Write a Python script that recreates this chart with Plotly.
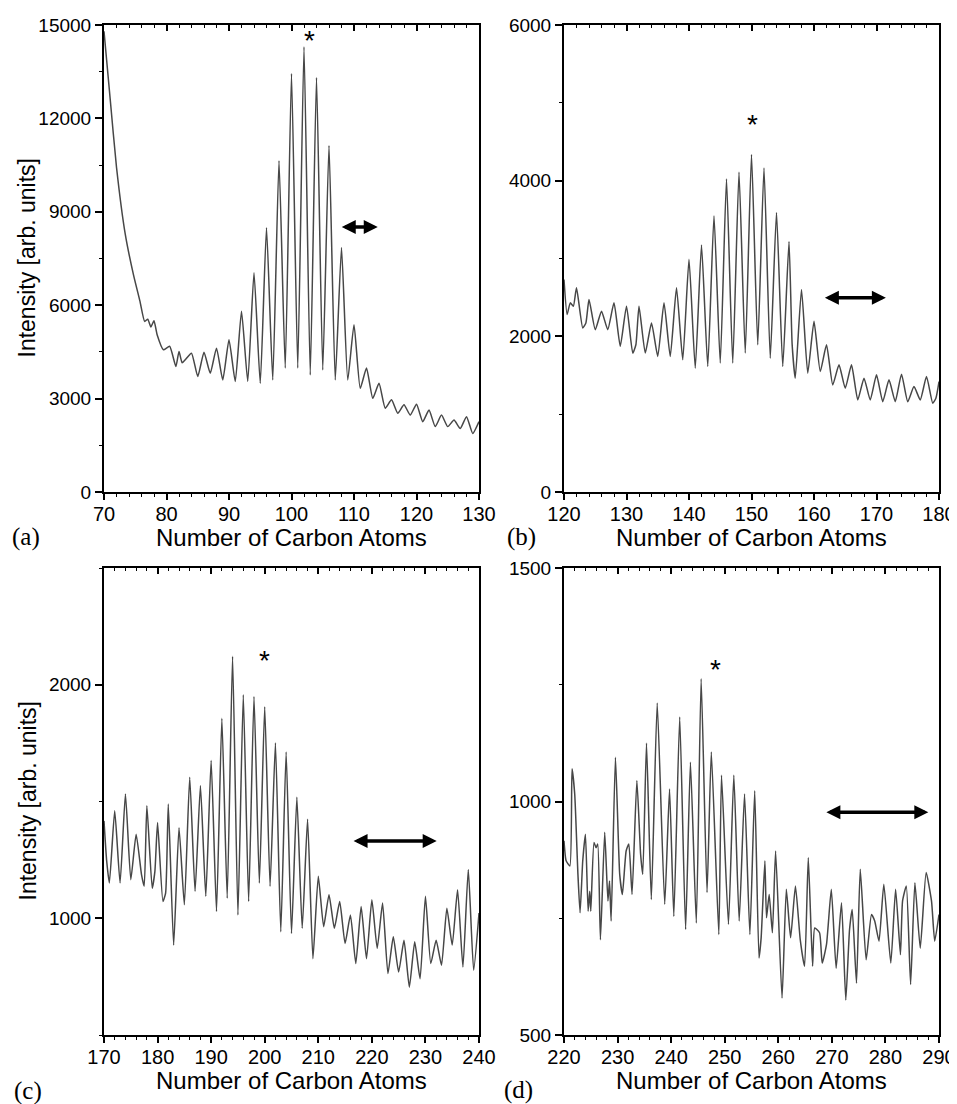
import plotly.graph_objects as go

# ---------------- data ----------------
# Panel (a)
a_x = [70, 71, 72, 73.4, 74.7, 75.75, 76.5, 77, 77.5, 78, 78.5, 79.5, 80.5, 81.5, 82, 82.5, 83, 84, 85, 86, 87, 88, 89, 90, 91, 92, 93,
       94, 95, 96, 97, 98, 99, 100, 101, 102, 103, 104, 105, 106, 107, 108, 109, 110, 111, 112, 113,
       114, 115, 116, 117, 118, 119, 120, 121, 122, 123, 124, 125, 126, 127, 128, 129, 130]
a_y = [14800, 12600, 10430, 8280, 6990, 6130, 5480, 5550, 5300, 5500, 5050, 4570, 4680, 4030, 4515, 4150, 4250, 4460, 3710, 4490, 3815, 4620, 3600, 4890, 3550, 5805, 3550,
       7040, 3490, 8490, 3600, 10640, 3980, 13440, 3980, 14300, 3760, 13310, 3920, 11130, 3600, 7850, 3600, 5375, 3330, 3980, 3010,
       3490, 2690, 2960, 2530, 2800, 2470, 2820, 2260, 2630, 2100, 2470, 2100, 2310, 2040, 2420, 1880, 2260]

# Panel (b)
b_x = [120, 120.5, 121, 121.5, 122, 123, 123.5, 124, 125, 126, 127, 128, 129, 130, 131, 131.5, 132, 133, 134, 135, 136, 137, 138, 139,
       140, 141, 142, 143, 144, 145, 146, 147, 148, 149, 150, 151, 152, 153, 154, 155, 156, 156.5, 157, 158, 159,
       160, 161, 162, 163, 164, 165, 166, 167, 168, 169, 170, 171, 172, 173, 174, 175, 176, 177, 178, 179, 179.5, 180]
b_y = [2731, 2280, 2430, 2387, 2624, 2107, 2172, 2473, 2086, 2323, 2086, 2430, 1871, 2387, 1785, 1892, 2387, 1785, 2172, 1742, 2430, 1742, 2624, 1699,
       2989, 1591, 3174, 1613, 3548, 1656, 4021, 1656, 4107, 1785, 4335, 1892, 4163, 1720, 3591, 1613, 3217, 1900, 1462, 2602, 1527,
       2193, 1548, 1892, 1376, 1634, 1333, 1634, 1183, 1462, 1183, 1505, 1161, 1441, 1161, 1514, 1161, 1355, 1183, 1484, 1140, 1204, 1419]

# Panel (c)
c_x = [170, 170.5, 171, 172, 173, 174, 175, 176, 177, 177.5, 178, 179, 179.5, 180, 181, 181.5, 182, 183, 184, 185, 186, 187, 188, 189,
       190, 191, 192, 193, 194, 195, 196, 197, 198, 199, 200, 201, 202, 203, 204, 205, 206, 207, 208, 209,
       210, 211, 212, 213, 214, 215, 216, 217, 218, 219, 220, 221, 222, 223, 224, 225, 226, 227, 228, 229,
       230, 231, 232, 233, 234, 235, 236, 237, 238, 239, 240]
c_y = [1417, 1245, 1151, 1460, 1151, 1532, 1165, 1360, 1187, 1137, 1482, 1129, 1201, 1410, 1072, 1108, 1489, 885, 1388, 1058, 1604, 1115, 1568, 1094,
       1676, 1029, 1856, 1086, 2122, 1014, 1957, 1072, 1950, 1151, 1906, 1137, 1751, 942, 1712, 935, 1518, 957, 1424, 827,
       1180, 964, 1101, 957, 1072, 892, 1014, 806, 1050, 827, 1079, 871, 1065, 763, 921, 770, 906, 705, 899, 741,
       1094, 806, 906, 799, 1043, 885, 1122, 791, 1209, 777, 1022]

# Panel (d)
d_x = [220.0, 220.4, 221.1, 221.5, 222.0, 222.6, 223.0, 223.5, 224.0, 224.5, 224.8, 225.0, 225.6, 226.0, 226.3, 226.8, 227.6, 228.2, 228.5, 228.8,
       229.6, 230.4, 230.9, 231.6, 232.1, 232.7, 233.6, 234.3, 234.7, 235.4, 236.3, 237.4, 238.8, 239.7, 240.5, 241.6, 242.7, 243.6, 244.7,
       245.6, 246.7, 247.5, 248.9, 249.4, 250.7, 251.7, 252.7, 253.7, 254.7, 255.6, 256.4, 256.8, 257.5, 257.8, 258.3, 258.9, 259.5,
       260.7, 261.5, 262.3, 263.2, 264.1, 264.9, 265.6, 266.4, 266.8, 267.7, 268.2, 269.0, 269.9, 270.8, 271.8, 272.6, 273.3, 273.8,
       274.6, 275.3, 276.4, 277.4, 278.0, 278.8, 279.7, 281.0, 281.9, 282.8, 283.2, 283.9, 284.7, 285.5, 286.5, 287.6, 288.6, 289.2, 290.0]
d_y = [916, 873, 862, 1070, 1016, 844, 762, 873, 930, 765, 808, 765, 912, 901, 909, 704, 934, 787, 830, 744,
       1095, 844, 801, 894, 909, 801, 1045, 887, 844, 1125, 790, 1211, 780, 1027, 754, 1181, 726, 1084, 740,
       1263, 805, 1106, 715, 1056, 737, 1056, 744, 1016, 715, 1023, 665, 708, 873, 751, 801, 719, 894,
       579, 812, 708, 819, 704, 647, 880, 647, 729, 719, 654, 694, 812, 643, 783, 575, 726, 769,
       611, 855, 661, 758, 744, 701, 823, 654, 812, 672, 787, 819, 608, 826, 686, 848, 787, 701, 758]

panel_labels = ["(a)", "(b)", "(c)", "(d)"]
x_ranges = [[70, 130], [120, 180], [170, 240], [220, 290]]
y_ranges = [[0, 15000], [0, 6000], [500, 2500], [500, 1500]]
y_tickvals = [[0, 3000, 6000, 9000, 12000, 15000], [0, 2000, 4000, 6000], [1000, 2000], [500, 1000, 1500]]
y_minor = [1500, 1000, 500, 250]
star_pos = [(102.8, 14700), (150.1, 4795), (200.0, 2130), (248.3, 1296)]
arrow_pos = [(107.8, 113.8, 8514), (161.5, 171.5, 2495), (216.3, 232.1, 1331), (268.7, 288.0, 977)]
x_title = "Number of Carbon Atoms"
y_title = "Intensity [arb. units]"

xs = [a_x, b_x, c_x, d_x]
ys = [a_y, b_y, c_y, d_y]

W, H = 957, 1104
OFF = 8  # page body margin of the html page
px_x = [(104, 479), (564, 939), (104, 479), (564, 939)]
px_y = [(25, 492), (25, 492), (568, 1035), (568, 1035)]
label_px = [(10, 537), (505, 537), (12, 1091), (502, 1090)]
title_y = [537, 537, 1080, 1080]


def fx(p):
    return (p - OFF) / W


def fy(p):
    return 1 - (p - OFF) / H


LINE = "#474747"
FONT = "Liberation Sans, Arial, sans-serif"

fig = go.Figure()
layout = dict(width=W, height=H, margin=dict(l=0, r=0, t=0, b=0),
              paper_bgcolor="white", plot_bgcolor="white", showlegend=False)
annotations = []

for i in range(4):
    n = i + 1
    xa = "x" if n == 1 else f"x{n}"
    ya = "y" if n == 1 else f"y{n}"
    top_n = n + 4
    fig.add_trace(go.Scatter(x=xs[i], y=ys[i], mode="lines",
                             line=dict(color=LINE, width=1.5, shape="spline", smoothing=0.5),
                             xaxis=xa, yaxis=ya, hoverinfo="skip"))
    # invisible trace for top axis
    fig.add_trace(go.Scatter(x=[x_ranges[i][0]], y=[y_ranges[i][0]], mode="markers",
                             marker=dict(opacity=0), xaxis=f"x{top_n}", yaxis=ya,
                             hoverinfo="skip"))
    x0, x1 = px_x[i]
    y0, y1 = px_y[i]
    xdom = [fx(x0), fx(x1)]
    ydom = [fy(y1), fy(y0)]
    xkey = "xaxis" if n == 1 else f"xaxis{n}"
    ykey = "yaxis" if n == 1 else f"yaxis{n}"
    layout[xkey] = dict(domain=xdom, range=x_ranges[i], anchor=ya, automargin=False,
                        dtick=10, tick0=0, ticks="outside", ticklen=6, tickwidth=1.5,
                        tickcolor="black", showline=True, linecolor="black", linewidth=2,
                        mirror=True, showgrid=False, zeroline=False, ticklabelstandoff=-3,
                        tickfont=dict(family=FONT, size=20, color="black"),
                        minor=dict(dtick=2, ticks="outside", ticklen=3, tickwidth=1.2,
                                   tickcolor="black", showgrid=False))
    layout[ykey] = dict(domain=ydom, range=y_ranges[i], anchor=xa, automargin=False,
                        tickvals=y_tickvals[i], ticktext=[str(v) for v in y_tickvals[i]],
                        ticks="outside", ticklen=7, tickwidth=1.5,
                        tickcolor="black", showline=True, linecolor="black", linewidth=2,
                        mirror=True, showgrid=False, zeroline=False,
                        tickfont=dict(family=FONT, size=19, color="black"),
                        minor=dict(dtick=y_minor[i], tick0=0, ticks="outside", ticklen=3,
                                   tickwidth=1.2, tickcolor="black", showgrid=False))
    layout[f"xaxis{top_n}"] = dict(domain=xdom, range=x_ranges[i], anchor=ya, automargin=False,
                                   overlaying=xa, side="top", dtick=10, tick0=0,
                                   ticks="inside", ticklen=6, tickwidth=1.5, tickcolor="black",
                                   showticklabels=False, showline=False, showgrid=False,
                                   zeroline=False,
                                   minor=dict(dtick=2, ticks="inside", ticklen=3, tickwidth=1.2,
                                              tickcolor="black", showgrid=False))
    # asterisk
    sx, sy = star_pos[i]
    annotations.append(dict(x=sx, y=sy, xref=xa, yref=ya, text="*", showarrow=False,
                            font=dict(family=FONT, size=28, color="black"), yshift=-6))
    # double arrow
    ax0, ax1, ay = arrow_pos[i]
    annotations.append(dict(x=ax1, y=ay, ax=ax0, ay=ay, xref=xa, yref=ya, axref=xa, ayref=ya,
                            text="", showarrow=True, arrowhead=2, startarrowhead=2,
                            arrowside="end+start", arrowwidth=3.5, arrowsize=0.8,
                            startarrowsize=0.8, arrowcolor="black"))
    # x title
    annotations.append(dict(x=fx((x0 + x1) / 2), y=fy(title_y[i]), xref="paper", yref="paper",
                            text=x_title, showarrow=False,
                            xanchor="center", yanchor="middle",
                            font=dict(family=FONT, size=24, color="black")))
    # panel label
    lx, ly = label_px[i]
    annotations.append(dict(x=fx(lx), y=fy(ly),
                            xref="paper", yref="paper", text=panel_labels[i], showarrow=False,
                            xanchor="left", yanchor="middle",
                            font=dict(family="Liberation Serif, Times New Roman, serif", size=25,
                                      color="black")))

# y titles
for (y0, y1) in [(25, 492), (568, 1035)]:
    annotations.append(dict(x=fx(27), y=fy((y0 + y1) / 2), xref="paper", yref="paper",
                            text=y_title, showarrow=False, textangle=-90,
                            xanchor="center", yanchor="middle",
                            font=dict(family=FONT, size=23, color="black")))

layout["annotations"] = annotations
fig.update_layout(**layout)
fig.write_html("out.html")
